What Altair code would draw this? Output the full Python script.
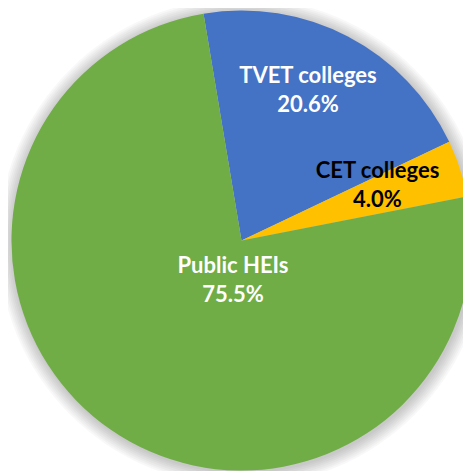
import math
import altair as alt
import pandas as pd

# ---- data ----
categories = ["TVET colleges", "CET colleges", "Public HEIs"]
shares = [20.6, 4.0, 75.5]

# ---- styling ----
slice_colors = ["#4472C4", "#FFC000", "#70AD47"]
label_colors = ["white", "black", "white"]
label_radius = [177.4, 152.7, 26.9]
label_dx = [-15.55, -9.05, 6.83]
label_dy = [-7.2, -21.75, 3.4]

df = pd.DataFrame({"cat": categories, "share": shares, "order": list(range(len(categories)))})
total = sum(shares)
start_angle = math.radians(-9.5)
theta_scale = alt.Scale(domain=[0, total], range=[start_angle, start_angle + 2 * math.pi])

CX, CY = 233.5, 232.5
R = 230

base = alt.Chart(df).transform_window(
    cum="sum(share)", sort=[alt.SortField("order")], frame=[None, 0]
).transform_calculate(
    start="datum.cum - datum.share",
    mid="datum.cum - datum.share / 2",
    label="datum.cat + '\\n' + format(datum.share, '.1f') + '%'",
)

# soft glow/shadow around the pie
shadows = []
for k in range(8):
    shadows.append(
        alt.Chart(alt.Data(values=[{"a": 1}]))
        .mark_arc(radius=R + 1.5 + 1.8 * k, theta=0, theta2=2 * math.pi, color="black", opacity=0.028)
        .encode(x=alt.value(CX + 1), y=alt.value(CY + 1.5))
    )

arcs = base.mark_arc(radius=R).encode(
    x=alt.value(CX),
    y=alt.value(CY),
    theta=alt.Theta("start:Q", scale=theta_scale, stack=None),
    theta2="cum:Q",
    color=alt.Color("cat:N", scale=alt.Scale(domain=categories, range=slice_colors), legend=None),
)

labels = []
for i, c in enumerate(categories):
    labels.append(
        base.transform_filter(alt.datum.cat == c)
        .mark_text(
            radius=label_radius[i],
            dx=label_dx[i],
            dy=label_dy[i],
            font="Lato",
            fontSize=22,
            fontWeight="bold",
            lineBreak="\n",
            lineHeight=29,
            align="center",
            baseline="middle",
            color=label_colors[i],
        )
        .encode(
            x=alt.value(CX),
            y=alt.value(CY),
            theta=alt.Theta("mid:Q", scale=theta_scale, stack=None),
            text="label:N",
        )
    )

chart = alt.layer(*shadows, arcs, *labels).properties(
    width=455, height=463, autosize="none", padding=0
).configure_view(stroke=None)

chart.save("out.html", embed_options={"renderer": "svg", "actions": False})
